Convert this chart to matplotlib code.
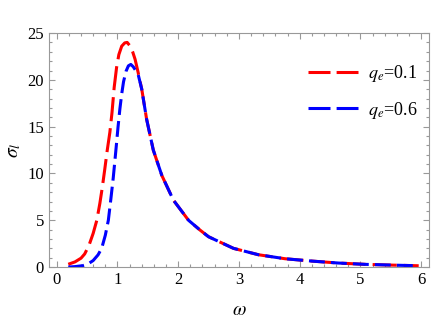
import matplotlib
matplotlib.use("Agg")
import matplotlib.pyplot as plt
from matplotlib.ticker import MultipleLocator
from matplotlib.lines import Line2D

plt.rcParams['font.family'] = ['Liberation Serif', 'DejaVu Serif']
plt.rcParams['mathtext.fontset'] = 'stix'

# значения
w_red = [0.19, 0.30, 0.40, 0.46, 0.53, 0.60, 0.66, 0.71, 0.75, 0.79, 0.83, 0.875, 0.91, 0.946, 0.985, 1.023, 1.07, 1.12, 1.16,
         1.21, 1.25, 1.29, 1.34, 1.40, 1.48, 1.59, 1.73, 1.92, 2.17, 2.36, 2.50, 2.91, 3.32, 3.76, 4.20, 4.64, 5.08, 5.52, 5.96]
s_red = [0.30, 0.55, 0.95, 1.4, 2.3, 3.6, 5.0, 6.8, 8.5, 10.4, 12.4, 14.4, 16.5, 19.2, 21.3, 22.7, 23.6, 23.95, 24.0,
         23.6, 23.0, 22.2, 20.8, 19.0, 15.8, 12.5, 9.8, 7.16, 5.0, 3.95, 3.24, 2.0, 1.32, 0.89, 0.64, 0.43, 0.29, 0.21, 0.14]

w_blue = [0.19, 0.30, 0.43, 0.52, 0.60, 0.68, 0.74, 0.80, 0.85, 0.89, 0.93, 0.97, 1.01, 1.04, 1.07, 1.10, 1.14, 1.18, 1.22,
          1.26, 1.30, 1.34, 1.40, 1.48, 1.59, 1.73, 1.92, 2.17, 2.36, 2.50, 2.91, 3.32, 3.76, 4.20, 4.64, 5.08, 5.52, 5.96]
s_blue = [0.0, 0.05, 0.15, 0.35, 0.7, 1.3, 2.0, 3.4, 5.0, 7.2, 9.5, 12.2, 15.0, 16.9, 18.5, 19.8, 20.9, 21.5, 21.65,
          21.4, 21.0, 20.6, 19.0, 15.8, 12.5, 9.8, 7.16, 5.0, 3.95, 3.24, 2.0, 1.32, 0.89, 0.64, 0.43, 0.29, 0.21, 0.14]

labels = [r'$q_e$=0.1', r'$q_e$=0.6']

fig = plt.figure(figsize=(4.36, 3.21), dpi=100)
ax = fig.add_axes([0.112, 0.168, 0.872, 0.729])

ax.plot(w_red, s_red, color='#ff0000', lw=2.2, dashes=(7.9, 2.3))
ax.plot(w_blue, s_blue, color='#0000ff', lw=2.2, dashes=(5.2, 2.0))

ax.set_xlim(-0.13, 6.13)
ax.set_ylim(0, 25)
ax.xaxis.set_major_locator(MultipleLocator(1))
ax.xaxis.set_minor_locator(MultipleLocator(0.2))
ax.yaxis.set_major_locator(MultipleLocator(5))
ax.yaxis.set_minor_locator(MultipleLocator(1))
ax.tick_params(which='both', direction='in', top=True, right=True, color='#999999', labelsize=12, width=0.8)
ax.tick_params(which='major', length=4)
ax.tick_params(which='minor', length=2)
for s in ax.spines.values():
    s.set_color('#999999')

ax.set_xlabel(r'$\omega$', fontsize=14, labelpad=10)
ax.set_ylabel(r'$\sigma_l$', fontsize=14, labelpad=3)

# легенда: по два штриха одинаковой длины
h1 = Line2D([], [], color='#ff0000', lw=2.2, dashes=(7.2, 2.0))
h2 = Line2D([], [], color='#0000ff', lw=2.2, dashes=(7.2, 2.0))
ax.legend([h1, h2], labels, loc='upper right', bbox_to_anchor=(1.013, 0.94), frameon=False, fontsize=13,
          handlelength=2.78, labelspacing=0.85, handletextpad=0.55)

fig.savefig('out.png', dpi=100)
